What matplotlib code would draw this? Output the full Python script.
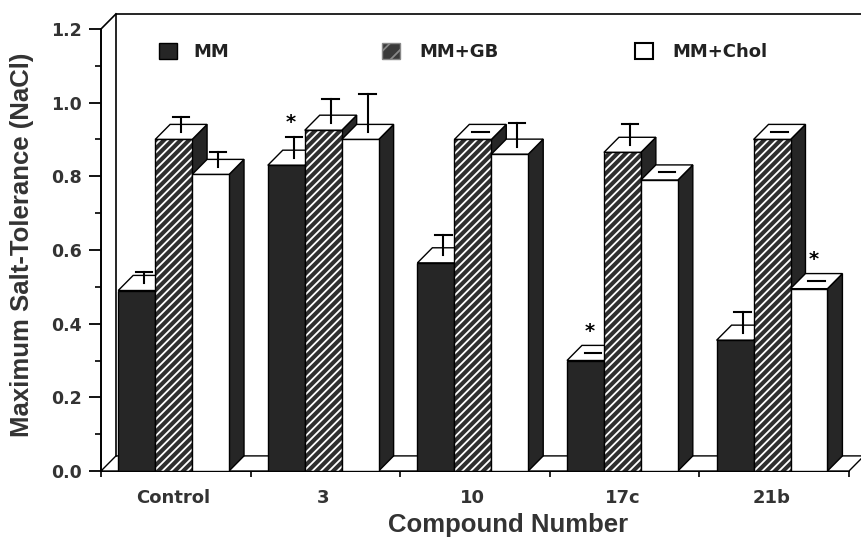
import matplotlib
matplotlib.use('Agg')
import matplotlib.pyplot as plt
from matplotlib.patches import Polygon, Rectangle

# data
compounds = ['Control', '3', '10', '17c', '21b']
series = ['MM', 'MM+GB', 'MM+Chol']
mm = [0.49, 0.83, 0.565, 0.30, 0.355]
mm_gb = [0.90, 0.925, 0.90, 0.865, 0.90]
mm_chol = [0.805, 0.90, 0.86, 0.79, 0.495]
# upper error, measured from the middle of the bar top
mm_err = [0.03, 0.057, 0.056, 0.0, 0.057]
mm_gb_err = [0.041, 0.065, 0.0, 0.057, 0.0]
mm_chol_err = [0.041, 0.104, 0.065, 0.0, 0.0]
# bars marked with an asterisk
mm_sig = [False, True, False, True, False]
mm_gb_sig = [False, False, False, False, False]
mm_chol_sig = [False, False, False, False, True]
yticks = [0.0, 0.2, 0.4, 0.6, 0.8, 1.0, 1.2]
ytick_labels = ['0.0', '0.2', '0.4', '0.6', '0.8', '1.0', '1.2']

# fake 3d geometry (data units)
BAR_W = 0.247
OFFSET = 0.115
DX = 0.10
DY = 0.041
DARK = '#262626'

plt.rcParams['font.family'] = 'DejaVu Sans'
plt.rcParams['hatch.linewidth'] = 1.3

fig = plt.figure(figsize=(8.61, 5.39), dpi=100)
ax = fig.add_axes([101 / 861, 1 - 471 / 539, 748 / 861, 442 / 539])
ax.set_xlim(0, 5)
ax.set_ylim(0, 1.2)

# floor and back wall
n = len(compounds)
ax.add_patch(Polygon([(0, 0), (n, 0), (n + DX, DY), (DX, DY)], closed=True,
                     facecolor='white', edgecolor='black', lw=1.0, zorder=1, clip_on=False))
ax.plot([DX, DX, n + DX, n + DX], [DY, 1.2 + DY, 1.2 + DY, DY], color='black', lw=1.2,
        zorder=1, clip_on=False)
ax.plot([0, DX], [1.2, 1.2 + DY], color='black', lw=1.2, zorder=1, clip_on=False)


def draw_bar(x, v, kind, z):
    side = [(x + BAR_W, 0), (x + BAR_W + DX, DY), (x + BAR_W + DX, v + DY), (x + BAR_W, v)]
    top = [(x, v), (x + BAR_W, v), (x + BAR_W + DX, v + DY), (x + DX, v + DY)]
    ax.add_patch(Polygon(side, closed=True, facecolor=DARK, edgecolor='black', lw=1.0, zorder=z))
    ax.add_patch(Polygon(top, closed=True, facecolor='white', edgecolor='black', lw=1.0, zorder=z + 0.1))
    if kind == 0:
        ax.add_patch(Rectangle((x, 0), BAR_W, v, facecolor=DARK, edgecolor='black', lw=1.0, zorder=z + 0.2))
    elif kind == 1:
        ax.add_patch(Rectangle((x, 0), BAR_W, v, facecolor='#2e2e2e', edgecolor='white', hatch='////',
                               lw=0, zorder=z + 0.2))
        ax.add_patch(Rectangle((x, 0), BAR_W, v, fill=False, edgecolor='black', lw=1.0, zorder=z + 0.3))
    else:
        ax.add_patch(Rectangle((x, 0), BAR_W, v, facecolor='white', edgecolor='black', lw=1.0, zorder=z + 0.2))


values = [mm, mm_gb, mm_chol]
errors = [mm_err, mm_gb_err, mm_chol_err]
sigs = [mm_sig, mm_gb_sig, mm_chol_sig]

z = 2
for i in range(n):
    for k in range(3):
        x = i + OFFSET + k * BAR_W
        v = values[k][i]
        draw_bar(x, v, k, z)
        z += 0.5
        # error bar starts in the middle of the top face
        xc = x + BAR_W / 2 + DX / 2
        y0 = v + DY / 2
        y1 = y0 + errors[k][i]
        ax.plot([xc, xc], [y0, y1], color='black', lw=1.5, zorder=50)
        ax.plot([xc - 0.055, xc + 0.055], [y1, y1], color='black', lw=1.5, zorder=50)
        if sigs[k][i]:
            ys = max(v + DY, y1) + 0.055
            ax.text(x + BAR_W / 2 + DX * 0.3, ys - 0.032, '*', fontsize=14, fontweight='bold',
                    ha='center', va='baseline', zorder=50)

# legend drawn by hand, as in the original
leg_x = [0.39, 1.88, 3.57]
leg_tx = [0.62, 2.13, 3.82]
for k in range(3):
    if k == 0:
        p = Rectangle((leg_x[k], 1.119), 0.12, 0.043, facecolor=DARK, edgecolor='black', lw=1.0,
                      zorder=60, clip_on=False)
    elif k == 1:
        p = Rectangle((leg_x[k], 1.119), 0.12, 0.043, facecolor='#3a3a3a', edgecolor='#888888',
                      hatch='//', lw=1.0, zorder=60, clip_on=False)
    else:
        p = Rectangle((leg_x[k], 1.119), 0.12, 0.043, facecolor='white', edgecolor='black', lw=1.5,
                      zorder=60, clip_on=False)
    ax.add_patch(p)
    ax.text(leg_tx[k], 1.124, series[k], fontsize=13, fontweight='bold', color='#222222',
            ha='left', va='baseline', zorder=60)

# axes
for s in ['top', 'right']:
    ax.spines[s].set_visible(False)
ax.spines['left'].set_linewidth(1.4)
ax.spines['bottom'].set_linewidth(1.4)
ax.spines['left'].set_zorder(0.5)
ax.spines['bottom'].set_zorder(0.5)

ax.set_yticks(yticks)
ax.set_yticklabels(ytick_labels, fontsize=12.5, fontweight='bold', color='#333333')
ax.set_yticks([0.1, 0.3, 0.5, 0.7, 0.9, 1.1], minor=True)
ax.tick_params(axis='y', which='major', direction='out', length=8.5, width=1.3, pad=5)
ax.tick_params(axis='y', which='minor', direction='out', length=4.5, width=1.2)

ax.set_xticks(range(n + 1))
ax.set_xticklabels([])
ax.set_xticks([i + OFFSET + 1.5 * BAR_W for i in range(n)], minor=True)
ax.set_xticklabels(compounds, minor=True, fontsize=13, fontweight='bold', color='#333333')
ax.tick_params(axis='x', which='major', direction='out', length=4.5, width=1.2)
ax.tick_params(axis='x', which='minor', length=0, pad=13)

ax.text(2.72, -0.138, 'Compound Number', transform=ax.get_xaxis_transform(),
        family='Liberation Sans', fontsize=18.5, fontweight='bold', color='#333333',
        ha='center', va='baseline')
ax.text(-0.105, 0.511, 'Maximum Salt-Tolerance (NaCl)', transform=ax.transAxes,
        family='Liberation Sans', fontsize=18.5, fontweight='bold', color='#333333',
        rotation=90, ha='center', va='center')

fig.savefig('out.png', dpi=100, facecolor='white')
